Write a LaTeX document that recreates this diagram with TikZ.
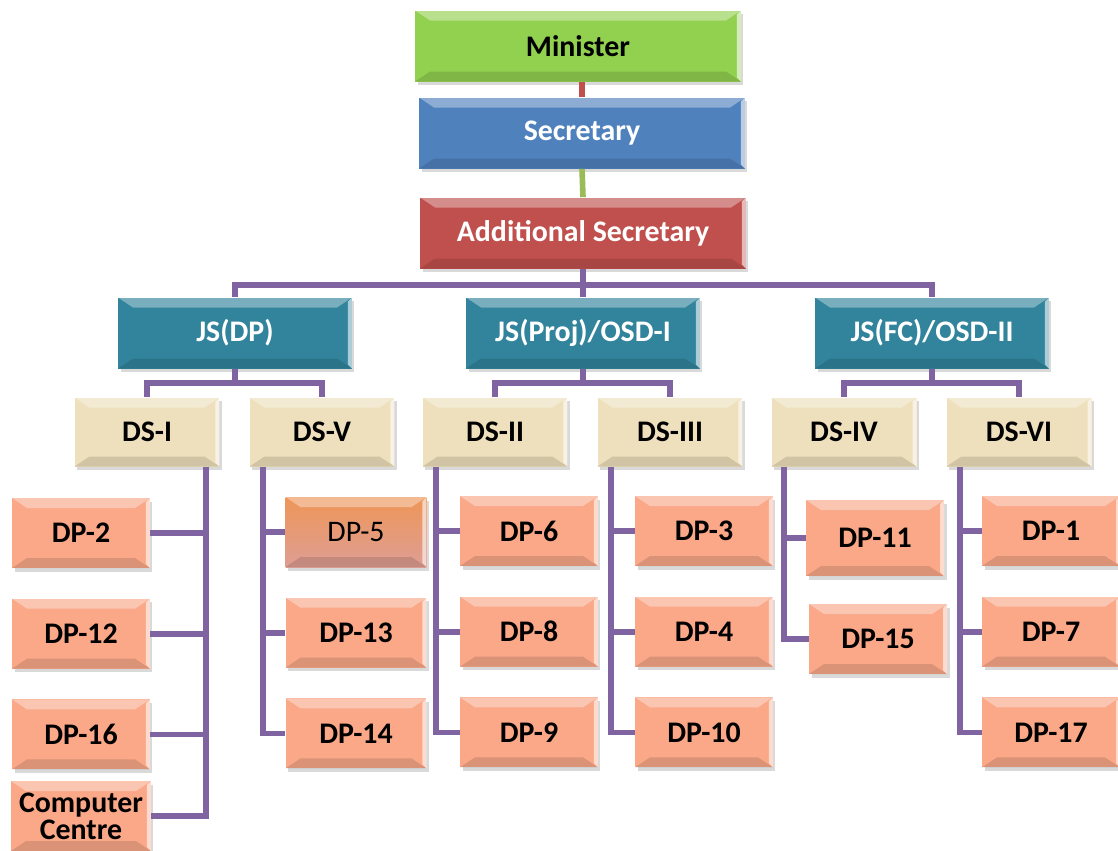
\documentclass[tikz,border=0pt]{standalone}
\usepackage{fontspec}
\setmainfont{Carlito}
\usetikzlibrary{positioning,shadows}
\definecolor{minGreen}{RGB}{146,208,80}
\definecolor{secBlue}{RGB}{79,129,189}
\definecolor{addRed}{RGB}{192,80,77}
\definecolor{jsTeal}{RGB}{49,132,155}
\definecolor{dsBeige}{RGB}{238,224,188}
\definecolor{dpSalmon}{RGB}{250,168,136}
\definecolor{dpOrange}{RGB}{238,150,88}
\definecolor{dpRose}{RGB}{222,158,148}
\definecolor{busPurple}{RGB}{128,100,162}
\definecolor{linkGreen}{RGB}{155,187,89}
\tikzset{bevel/.style={path picture={
  \fill[white, opacity=0.35] (path picture bounding box.north west) -- (path picture bounding box.north east)
    -- ([shift={(-0.3cm,-0.2cm)}]path picture bounding box.north east) -- ([shift={(0.3cm,-0.2cm)}]path picture bounding box.north west) -- cycle;
  \fill[black, opacity=0.12] (path picture bounding box.south west) -- (path picture bounding box.south east)
    -- ([shift={(-0.3cm,0.2cm)}]path picture bounding box.south east) -- ([shift={(0.3cm,0.2cm)}]path picture bounding box.south west) -- cycle;
  \fill[white, opacity=0.6] (path picture bounding box.north east) -- (path picture bounding box.south east)
    -- ([shift={(-0.08cm,0.08cm)}]path picture bounding box.south east) -- ([shift={(-0.08cm,-0.08cm)}]path picture bounding box.north east) -- cycle;
}}}
\tikzstyle{box}=[rectangle, inner sep=2pt, align=center, font=\fontsize{17}{17.5}\selectfont\bfseries, bevel, drop shadow={shadow xshift=0.05cm, shadow yshift=-0.07cm, opacity=0.3}]
\tikzstyle{headbox}=[box, minimum width=6.52cm, minimum height=1.42cm]
\tikzstyle{js}=[box, fill=jsTeal, text=white, minimum width=4.68cm, minimum height=1.42cm]
\tikzstyle{ds}=[box, fill=dsBeige, minimum width=2.9cm, minimum height=1.38cm]
\tikzstyle{dp}=[box, fill=dpSalmon, minimum width=2.76cm, minimum height=1.4cm]
\tikzstyle{bus}=[draw=busPurple, line width=3.2pt]

\begin{document}
\begin{tikzpicture}[x=0.02cm, y=-0.02cm, node distance=0.6cm]
	\useasboundingbox (0,0) rectangle (1118,850);
	% top of the chart
	\node[headbox, fill=minGreen] (minister) at (578,46) {Minister};
	\node[headbox, fill=secBlue, text=white] (sec) at (582,133) {Secretary};
	\node[headbox, fill=addRed, text=white] (addSec) at (583,233) {Additional Secretary};
	\node[js] (jsDP) at (235,333) {JS(DP)};
	\node[js] (jsProj) at (583,333) {JS(Proj)/OSD-I};
	\node[js] (jsFC) at (932,333) {JS(FC)/OSD-II};
	\node[ds] (dsI) at (147,432) {DS-I};
	\node[ds] (dsV) at (322,432) {DS-V};
	\node[ds] (dsII) at (495,432) {DS-II};
	\node[ds] (dsIII) at (670,432) {DS-III};
	\node[ds] (dsIV) at (844,432) {DS-IV};
	\node[ds] (dsVI) at (1019,432) {DS-VI};
	% desks
	\node[dp] (dp2) at (81,533) {DP-2};
	\node[dp, below=of dp2] (dp12) {DP-12};
	\node[dp, below=of dp12] (dp16) {DP-16};
	\node[dp, below=0.22cm of dp16, minimum width=2.8cm, font=\fontsize{17}{15.5}\selectfont\bfseries] (cc) {Computer\\Centre};
	\node[dp, top color=dpOrange, bottom color=dpRose, font=\fontsize{17}{17.5}\selectfont, minimum width=2.82cm] (dp5) at (356,532) {DP-5};
	\node[dp, below=of dp5, minimum width=2.82cm] (dp13) {DP-13};
	\node[dp, below=of dp13, minimum width=2.82cm] (dp14) {DP-14};
	\node[dp] (dp6) at (529,531) {DP-6};
	\node[dp, below=of dp6] (dp8) {DP-8};
	\node[dp, below=of dp8] (dp9) {DP-9};
	\node[dp] (dp3) at (704,531) {DP-3};
	\node[dp, below=of dp3] (dp4) {DP-4};
	\node[dp, below=of dp4] (dp10) {DP-10};
	\node[dp, minimum height=1.52cm] (dp11) at (875,538) {DP-11};
	\node[dp] (dp15) at (878,639) {DP-15};
	\node[dp] (dp1) at (1051,531) {DP-1};
	\node[dp, below=of dp1] (dp7) {DP-7};
	\node[dp, below=of dp7] (dp17) {DP-17};
	% links
	\draw[draw=addRed, line width=3.2pt] (sec.north) -- (sec.north |- minister.south);
	\draw[draw=linkGreen, line width=3.2pt] (sec.south) -- (addSec.north);
	\draw[bus] (addSec.south) -- ++(0,16) -| (jsDP.north);
	\draw[bus] (addSec.south) -- (jsProj.north);
	\draw[bus] (addSec.south) -- ++(0,16) -| (jsFC.north);
	\draw[bus] (jsDP.south) -- ++(0,14) -| (dsI.north);
	\draw[bus] (jsDP.south) -- ++(0,14) -| (dsV.north);
	\draw[bus] (jsProj.south) -- ++(0,14) -| (dsII.north);
	\draw[bus] (jsProj.south) -- ++(0,14) -| (dsIII.north);
	\draw[bus] (jsFC.south) -- ++(0,14) -| (dsIV.north);
	\draw[bus] (jsFC.south) -- ++(0,14) -| (dsVI.north);
	\draw[bus] ([xshift=-0.28cm]dsI.south east) |- (dp2);
	\draw[bus] ([xshift=-0.28cm]dsI.south east) |- (dp12);
	\draw[bus] ([xshift=-0.28cm]dsI.south east) |- (dp16);
	\draw[bus] ([xshift=-0.28cm]dsI.south east) |- (cc);
	\draw[bus] ([xshift=0.28cm]dsV.south west) |- (dp5);
	\draw[bus] ([xshift=0.28cm]dsV.south west) |- (dp13);
	\draw[bus] ([xshift=0.28cm]dsV.south west) |- (dp14);
	\draw[bus] ([xshift=0.28cm]dsII.south west) |- (dp6);
	\draw[bus] ([xshift=0.28cm]dsII.south west) |- (dp8);
	\draw[bus] ([xshift=0.28cm]dsII.south west) |- (dp9);
	\draw[bus] ([xshift=0.28cm]dsIII.south west) |- (dp3);
	\draw[bus] ([xshift=0.28cm]dsIII.south west) |- (dp4);
	\draw[bus] ([xshift=0.28cm]dsIII.south west) |- (dp10);
	\draw[bus] ([xshift=0.26cm]dsIV.south west) |- (dp11);
	\draw[bus] ([xshift=0.26cm]dsIV.south west) |- (dp15);
	\draw[bus] ([xshift=0.28cm]dsVI.south west) |- (dp1);
	\draw[bus] ([xshift=0.28cm]dsVI.south west) |- (dp7);
	\draw[bus] ([xshift=0.28cm]dsVI.south west) |- (dp17);
\end{tikzpicture}
\end{document}
